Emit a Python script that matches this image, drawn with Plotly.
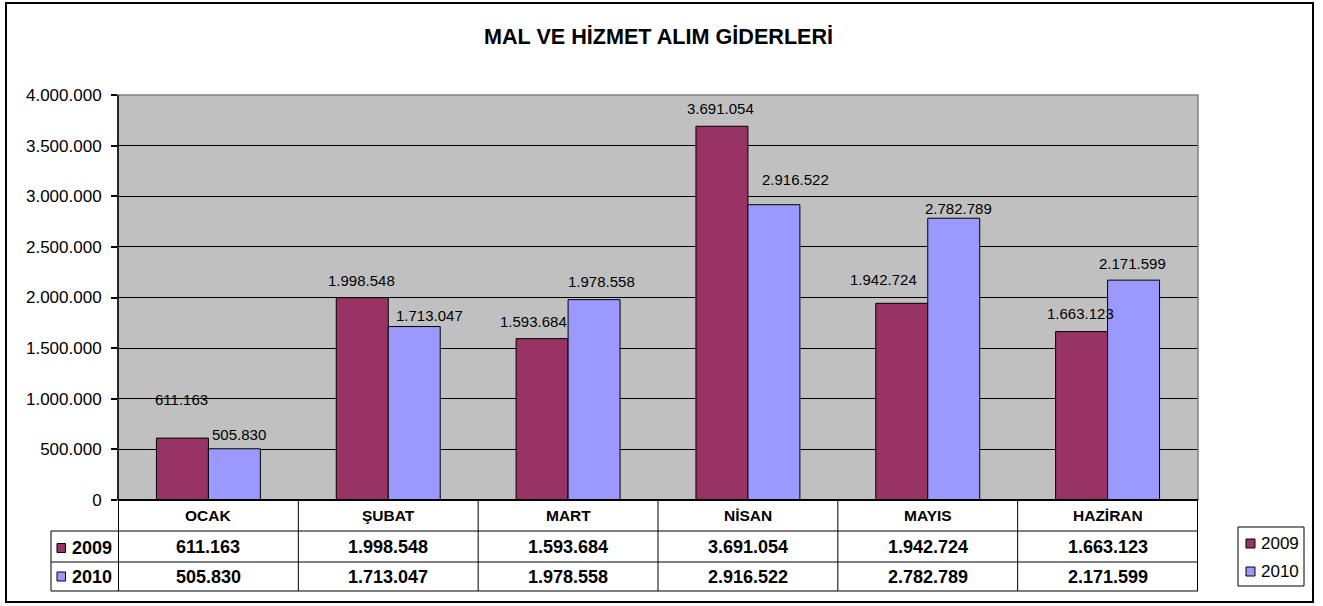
import plotly.graph_objects as go

# ---------------- data ----------------
categories = ["OCAK", "ŞUBAT", "MART", "NİSAN", "MAYIS", "HAZİRAN"]
series_names = ["2009", "2010"]
values_2009 = [611163, 1998548, 1593684, 3691054, 1942724, 1663123]
values_2010 = [505830, 1713047, 1978558, 2916522, 2782789, 2171599]
tick_vals = [0, 500000, 1000000, 1500000, 2000000, 2500000, 3000000, 3500000, 4000000]
title_text = "MAL VE HİZMET ALIM GİDERLERİ"

# label nudges (pixels, style only)
label_dx_2009 = [-1, -1, -9, -1, -18, -1]
label_dy_2009 = [39, 17, 17, 18, 24, 18]
label_dx_2010 = [5, 15, 7, 22, 5, -1]
label_dy_2010 = [14, 11, 18, 25, 10, 17]

# ---------------- styling ----------------
C2009 = "#993366"
C2010 = "#9999FF"
FONT = "Arial, Liberation Sans, sans-serif"
W, H = 1323, 606
L, R, T, B = 118, 1198, 95, 500  # plot area pixel box


def fmt(v):
    return f"{v:,}".replace(",", ".")


def px(x):
    return (x - L) / (R - L)


def py(y):
    return (B - y) / (B - T)


fig = go.Figure()
fig.add_trace(go.Bar(x=categories, y=values_2009, name=series_names[0],
                     marker=dict(color=C2009, line=dict(color="black", width=1))))
fig.add_trace(go.Bar(x=categories, y=values_2010, name=series_names[1],
                     marker=dict(color=C2010, line=dict(color="black", width=1))))

shapes = []
annotations = []

# data labels
for i, c in enumerate(categories):
    annotations.append(dict(x=c, y=values_2009[i], xref="x", yref="y", text=fmt(values_2009[i]),
                            showarrow=False, xshift=-26 + label_dx_2009[i], yshift=label_dy_2009[i],
                            yanchor="middle", font=dict(family=FONT, size=15, color="black")))
    annotations.append(dict(x=c, y=values_2010[i], xref="x", yref="y", text=fmt(values_2010[i]),
                            showarrow=False, xshift=26 + label_dx_2010[i], yshift=label_dy_2010[i],
                            yanchor="middle", font=dict(family=FONT, size=15, color="black")))

# plot area border (grey) and left axis line
shapes.append(dict(type="rect", xref="paper", yref="paper", x0=0, x1=1, y0=0, y1=1,
                   line=dict(color="#808080", width=1.5), layer="above"))
shapes.append(dict(type="line", xref="paper", yref="paper", x0=0, x1=0, y0=0, y1=1,
                   line=dict(color="black", width=1.5), layer="above"))

# data table
y_head_bot = py(531)
y_r1_bot = py(562)
y_r2_bot = py(591)
x_lab = px(51)
n = len(categories)
for k in range(n + 1):
    shapes.append(dict(type="line", xref="x", yref="paper", x0=k - 0.5, x1=k - 0.5,
                       y0=0, y1=y_r2_bot, line=dict(color="black", width=1)))
shapes.append(dict(type="line", xref="paper", yref="paper", x0=x_lab, x1=x_lab,
                   y0=y_head_bot, y1=y_r2_bot, line=dict(color="black", width=1)))
for yy in (y_head_bot, y_r1_bot, y_r2_bot):
    shapes.append(dict(type="line", xref="paper", yref="paper", x0=x_lab, x1=1,
                       y0=yy, y1=yy, line=dict(color="black", width=1)))
# x axis (zero line) thick
shapes.append(dict(type="line", xref="paper", yref="paper", x0=0, x1=1, y0=0, y1=0,
                   line=dict(color="black", width=2), layer="above"))

for i, c in enumerate(categories):
    annotations.append(dict(x=c, y=py(515.5), xref="x", yref="paper", text=f"<b>{c}</b>",
                            showarrow=False, yanchor="middle",
                            font=dict(family=FONT, size=15.5, color="black")))
    annotations.append(dict(x=c, y=py(547), xref="x", yref="paper", text=f"<b>{fmt(values_2009[i])}</b>",
                            showarrow=False, yanchor="middle",
                            font=dict(family=FONT, size=18, color="black")))
    annotations.append(dict(x=c, y=py(577), xref="x", yref="paper", text=f"<b>{fmt(values_2010[i])}</b>",
                            showarrow=False, yanchor="middle",
                            font=dict(family=FONT, size=18, color="black")))

# row headers in table
for name, col, yc in ((series_names[0], C2009, 548), (series_names[1], C2010, 576.5)):
    shapes.append(dict(type="rect", xref="paper", yref="paper", x0=px(57), x1=px(65.5),
                       y0=py(yc + 4.5), y1=py(yc - 4.5), fillcolor=col,
                       line=dict(color="black", width=1)))
    annotations.append(dict(x=px(70), y=py(yc), xref="paper", yref="paper", text=f"<b>{name}</b>",
                            showarrow=False, xanchor="left", yanchor="middle",
                            font=dict(family=FONT, size=18, color="black")))

# legend (drawn)
shapes.append(dict(type="rect", xref="paper", yref="paper", x0=px(1238), x1=px(1304),
                   y0=py(586), y1=py(527), line=dict(color="black", width=1), fillcolor="white"))
for name, col, yc in ((series_names[0], C2009, 543.5), (series_names[1], C2010, 571.5)):
    shapes.append(dict(type="rect", xref="paper", yref="paper", x0=px(1246), x1=px(1255),
                       y0=py(yc + 4.5), y1=py(yc - 4.5), fillcolor=col,
                       line=dict(color="black", width=1)))
    annotations.append(dict(x=px(1259), y=py(yc), xref="paper", yref="paper", text=name,
                            showarrow=False, xanchor="left", yanchor="middle",
                            font=dict(family=FONT, size=17, color="black")))

# outer chart border
shapes.append(dict(type="rect", xref="paper", yref="paper", x0=px(6), x1=px(1313),
                   y0=py(602), y1=py(3), line=dict(color="black", width=2)))

# title
annotations.append(dict(x=px(658), y=py(37), xref="paper", yref="paper", text=f"<b>{title_text}</b>",
                        showarrow=False, xanchor="center", yanchor="middle",
                        font=dict(family=FONT, size=21.6, color="black")))

fig.update_layout(
    width=W, height=H,
    margin=dict(l=L, r=W - R, t=T, b=H - B, pad=0),
    paper_bgcolor="white",
    plot_bgcolor="#C0C0C0",
    barmode="group",
    bargap=0.422,
    bargroupgap=0,
    showlegend=False,
    shapes=shapes,
    annotations=annotations,
    font=dict(family=FONT, color="black"),
)
fig.update_xaxes(showticklabels=False, showgrid=False, zeroline=False, showline=False,
                 ticks="", fixedrange=True)
fig.update_yaxes(range=[0, 4000000], tickvals=tick_vals, ticktext=[fmt(v) for v in tick_vals],
                 ticks="outside", ticklen=6, tickcolor="black", tickwidth=1.5,
                 showgrid=True, gridcolor="black", gridwidth=1.2, zeroline=False,
                 showline=False, ticklabelstandoff=6,
                 tickfont=dict(family=FONT, size=17, color="black"), fixedrange=True)

fig.write_html("out.html", config={"displayModeBar": False},
               post_script="document.body.style.margin='0';document.body.style.overflow='hidden';")
